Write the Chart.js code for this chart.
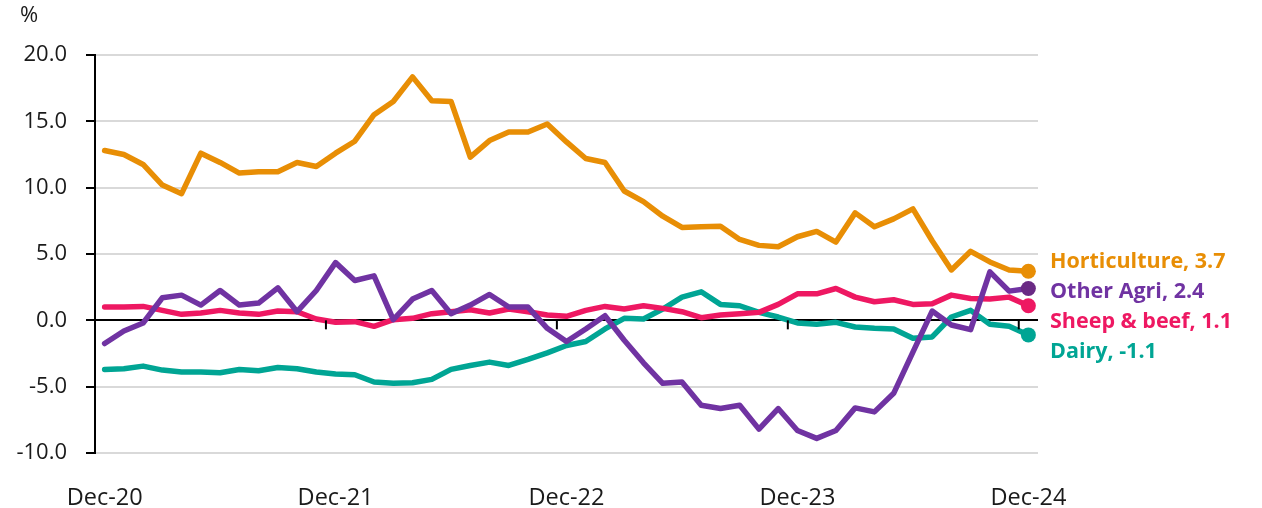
<!DOCTYPE html>
<html>
<head>
<meta charset="utf-8">
<script src="https://cdn.jsdelivr.net/npm/chart.js@4.4.1/dist/chart.umd.min.js"></script>
<style>
  html, body { margin: 0; padding: 0; background: #fff; }
  #wrap { width: 1262px; height: 508px; position: relative; }
</style>
</head>
<body>
<div id="wrap"><canvas id="lending"></canvas></div>
<script>
// monthly series, Dec-20 .. Dec-24 (annual % change)
const monthNames = ['Jan','Feb','Mar','Apr','May','Jun','Jul','Aug','Sep','Oct','Nov','Dec'];
const yearTickLabels = ['Dec-20', 'Dec-21', 'Dec-22', 'Dec-23', 'Dec-24'];

const horticulture = [12.8,12.5,11.75,10.2,9.55,12.6,11.9,11.1,11.2,11.2,
  11.9,11.6,12.6,13.5,15.5,16.5,18.35,16.55,16.5,12.3,
  13.55,14.2,14.2,14.8,13.45,12.2,11.9,9.75,8.95,7.85,
  7.0,7.05,7.1,6.1,5.65,5.55,6.3,6.7,5.9,8.1,
  7.05,7.65,8.4,6.0,3.8,5.2,4.4,3.8,3.7];

const otherAgri = [-1.75,-0.8,-0.2,1.7,1.9,1.15,2.25,1.15,1.3,2.45,
  0.65,2.25,4.35,3.0,3.35,0.05,1.6,2.25,0.5,1.15,
  1.95,1.0,1.0,-0.6,-1.6,-0.65,0.35,-1.5,-3.2,-4.75,
  -4.65,-6.4,-6.65,-6.4,-8.2,-6.65,-8.3,-8.9,-8.3,-6.6,
  -6.9,-5.5,-2.4,0.7,-0.35,-0.7,3.65,2.2,2.4];

const sheepBeef = [1.0,1.0,1.05,0.75,0.45,0.55,0.75,0.55,0.45,0.7,
  0.65,0.1,-0.15,-0.1,-0.45,0.05,0.15,0.5,0.65,0.8,
  0.55,0.85,0.65,0.4,0.3,0.75,1.05,0.85,1.1,0.9,
  0.65,0.2,0.4,0.5,0.6,1.2,2.0,2.0,2.4,1.75,
  1.4,1.55,1.2,1.25,1.9,1.65,1.6,1.75,1.1];

const dairy = [-3.7,-3.65,-3.45,-3.75,-3.9,-3.9,-3.95,-3.7,-3.8,-3.55,
  -3.65,-3.9,-4.05,-4.1,-4.65,-4.75,-4.7,-4.45,-3.7,-3.4,
  -3.15,-3.4,-2.95,-2.45,-1.9,-1.6,-0.65,0.15,0.1,0.85,
  1.75,2.15,1.2,1.1,0.6,0.25,-0.2,-0.3,-0.15,-0.5,
  -0.6,-0.65,-1.35,-1.25,0.25,0.75,-0.3,-0.45,-1.1];

const seriesNames = ['Horticulture', 'Other Agri', 'Sheep & beef', 'Dairy'];
const seriesColors = ['#E88E05', '#7033A2', '#EE1862', '#00A594'];
const endDotColors = ['#E88E05', '#6A2A84', '#EE1862', '#00A594'];

// category labels, one per month
let labels = [];
for (let i = 0; i < horticulture.length; i++) {
  const m = (11 + i) % 12;
  const y = 20 + Math.floor((11 + i) / 12);
  labels.push(monthNames[m] + '-' + y);
}

const FONT = "'Open Sans', 'Noto Sans', sans-serif";
const last = horticulture.length - 1;

function makeSet(idx, values) {
  return {
    label: seriesNames[idx],
    data: values,
    borderColor: seriesColors[idx],
    backgroundColor: endDotColors[idx],
    borderWidth: 5.5,
    tension: 0,
    fill: false,
    pointRadius: ctx => ctx.dataIndex === last ? 7.5 : 0,
    pointHoverRadius: 0,
    pointBorderWidth: 0,
    borderJoinStyle: 'round',
    borderCapStyle: 'round'
  };
}

// tick marks on the zero line + end labels + "%" unit
const extras = {
  id: 'extras',
  afterDatasetsDraw(chart) {
    const c = chart.ctx;
    const xs = chart.scales.x, ys = chart.scales.y;
    const area = chart.chartArea;
    const y0 = ys.getPixelForValue(0);
    c.save();
    c.strokeStyle = '#000';
    c.lineWidth = 2;
    for (let i = 12; i <= last; i += 12) {
      const x = (xs.getPixelForValue(i - 1) + xs.getPixelForValue(i)) / 2;
      c.beginPath();
      c.moveTo(x, y0);
      c.lineTo(x, y0 + 9);
      c.stroke();
    }
    // end labels, spaced so they do not overlap
    const gap = 30, lift = 9;
    let prev = -1e9;
    chart.data.datasets.forEach((ds, i) => {
      const pt = chart.getDatasetMeta(i).data[last];
      let y = Math.max(pt.y, prev + gap);
      prev = y;
      c.font = 'bold 21.5px ' + FONT;
      c.fillStyle = seriesColors[i];
      c.textAlign = 'left';
      c.textBaseline = 'middle';
      c.fillText(ds.label + ', ' + ds.data[last].toFixed(1), area.right + 12, y - lift);
    });
    c.font = '22px ' + FONT;
    c.fillStyle = '#1a1a1a';
    c.textBaseline = 'middle';
    c.fillText('%', 20, 16);
    c.restore();
  }
};

const ctx = document.getElementById('lending');

new Chart(ctx, {
  type: 'line',
  data: {
    labels: labels,
    datasets: [
      makeSet(0, horticulture),
      makeSet(1, otherAgri),
      makeSet(2, sheepBeef),
      makeSet(3, dairy)
    ]
  },
  options: {
    responsive: true,
    maintainAspectRatio: false,
    animation: false,
    layout: { padding: { top: 55, right: 224, left: 0, bottom: 0 } },
    plugins: {
      legend: { display: false },
      tooltip: { enabled: false }
    },
    scales: {
      x: {
        offset: true,
        grid: { display: false },
        border: { display: false },
        afterFit: s => { s.height = 55; },
        ticks: {
          autoSkip: false,
          maxRotation: 0,
          padding: 23,
          color: '#1a1a1a',
          font: { family: FONT, size: 23.5 },
          callback: function(v, i) {
            return i % 12 === 0 ? yearTickLabels[i / 12] : '';
          }
        }
      },
      y: {
        min: -10,
        max: 20,
        afterFit: s => { s.width = 95; },
        border: { display: true, color: '#000', width: 2 },
        grid: {
          color: c => c.tick.value === 0 ? '#000' : '#d9d9d9',
          lineWidth: 2,
          tickColor: '#000',
          tickLength: 9
        },
        ticks: {
          stepSize: 5,
          padding: 19,
          color: '#1a1a1a',
          font: { family: FONT, size: 22 },
          callback: v => v.toFixed(1)
        }
      }
    }
  },
  plugins: [extras]
});
</script>
</body>
</html>
